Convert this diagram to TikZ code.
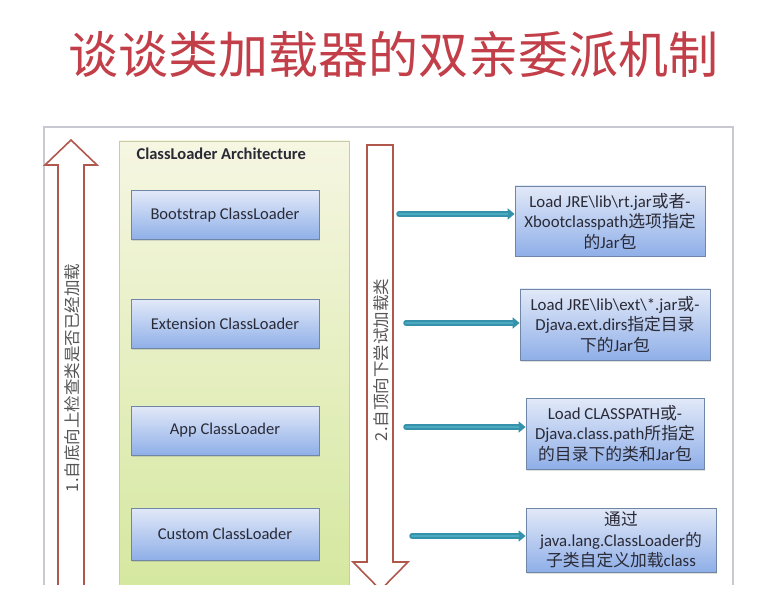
\documentclass[tikz,border=0pt]{standalone}
\usepackage{fontspec}
\setmainfont{Carlito}
\newfontfamily\cjk{Noto Sans CJK SC}
\usetikzlibrary{arrows.meta,shadows}
\definecolor{titlered}{HTML}{C23E48}
\definecolor{arrowred}{HTML}{B0584C}
\definecolor{tealA}{HTML}{3592AA}
\definecolor{tealB}{HTML}{4AAAC2}
\definecolor{framegray}{HTML}{C8C8D2}
\definecolor{boxborder}{HTML}{6F86A6}
\definecolor{bluetop}{HTML}{E2E9F8}
\definecolor{bluebot}{HTML}{8FAFE8}
\definecolor{greentop}{HTML}{F6F6E2}
\definecolor{greenbot}{HTML}{D3E79C}
\definecolor{greenborder}{HTML}{C5CCA6}
\definecolor{textgray}{HTML}{2A2A36}
\definecolor{vtext}{HTML}{555555}
\newcommand\zhtxt[1]{{\cjk #1}}
\newcommand\bs{\textbackslash}
\tikzset{
  loader/.style={draw=boxborder, line width=0.8pt, top color=bluetop, bottom color=bluebot,
    minimum width=188pt, minimum height=49pt, inner sep=0pt, text=textgray,
    font=\fontsize{16.5}{18}\selectfont,
    drop shadow={opacity=0.25, shadow xshift=1pt, shadow yshift=-1.5pt}},
  loadbox/.style={loader, align=center, minimum height=70pt, minimum width=190pt,
    font=\fontsize{16.8}{20.5}\selectfont},
  tealarrow/.style={draw=tealA, line width=5.5pt, line cap=round,
    -{Triangle[length=7pt,width=11pt]}},
  tealcore/.style={draw=tealB, line width=2pt, line cap=round, shorten >=7pt},
  bigarrow/.style={draw=arrowred, line width=1.6pt, fill=white, line join=miter},
  vlabel/.style={rotate=90, text=vtext, font=\cjk\fontsize{16.5}{16.5}\selectfont}
}
\begin{document}
\begin{tikzpicture}[x=1pt,y=-1pt]
\useasboundingbox (0,0) rectangle (778,609);
\fill[white] (0,0) rectangle (778,609);
% title
\node[text=titlered, font=\cjk\fontsize{50}{50}\selectfont] (title) at (393,55) {谈谈类加载器的双亲委派机制};
\begin{scope}
\clip (0,0) rectangle (778,584);
% frame
\draw[framegray, line width=1.2pt] (44,610) |- (733,127) -- (733,610);
% green architecture box
\draw[greenborder, line width=0.8pt, top color=greentop, bottom color=greenbot]
  (119,141) rectangle (349,610);
\node[anchor=west, text=textgray, font=\bfseries\fontsize{16.5}{16.5}\selectfont] (gtitle) at (133,154) {ClassLoader Architecture};
% left up arrow
\draw[bigarrow] (58,610) -- (58,165) -- (45,165) -- (71,140) -- (97,165) -- (84,165) -- (84,610);
\node[vlabel] (lab1) at (72,378) {1.自底向上检查类是否已经加载};
% right down arrow
\draw[bigarrow] (367,145) -- (393,145) -- (393,562) -- (408,562) -- (380.5,590) -- (353,562) -- (367,562) -- cycle;
\node[vlabel] (lab2) at (381,360) {2.自顶向下尝试加载类};
% loaders
\node[loader] (boot) at (225,215) {Bootstrap ClassLoader};
\node[loader] (ext) at (225,324) {Extension ClassLoader};
\node[loader] (app) at (225,430.5) {App ClassLoader};
\node[loader, minimum height=52pt] (cust) at (225,534) {Custom ClassLoader};
% descriptions
\node[loadbox] (b1) at (610,221) {Load JRE\bs lib\bs rt.jar\zhtxt{或者}-\\Xbootclasspath\zhtxt{选项指定}\\\zhtxt{的}Jar\zhtxt{包}};
\node[loadbox, minimum height=71pt] (b2) at (615,324.5) {Load JRE\bs lib\bs ext\bs *.jar\zhtxt{或}-\\Djava.ext.dirs\zhtxt{指定目录}\\\zhtxt{下的}Jar\zhtxt{包}};
\node[loadbox, minimum height=71pt, minimum width=178pt] (b3) at (615,433.5) {Load CLASSPATH\zhtxt{或}-\\Djava.class.path\zhtxt{所指定}\\\zhtxt{的目录下的类和}Jar\zhtxt{包}};
\node[loadbox, minimum height=64pt] (b4) at (621,540) {\zhtxt{通过}\\java.lang.ClassLoader\zhtxt{的}\\\zhtxt{子类自定义加载}class};
% teal arrows
\coordinate (a1) at (399,214);
\coordinate (a2) at (406,323);
\coordinate (a3) at (406,427);
\coordinate (a4) at (412,536);
\draw[tealarrow] (a1) -- (a1 -| b1.west);
\draw[tealcore] (a1) -- (a1 -| b1.west);
\draw[tealarrow] (a2) -- (a2 -| b2.west);
\draw[tealcore] (a2) -- (a2 -| b2.west);
\draw[tealarrow] (a3) -- (a3 -| b3.west);
\draw[tealcore] (a3) -- (a3 -| b3.west);
\draw[tealarrow] (a4) -- (a4 -| b4.west);
\draw[tealcore] (a4) -- (a4 -| b4.west);
\end{scope}
\end{tikzpicture}
\end{document}
